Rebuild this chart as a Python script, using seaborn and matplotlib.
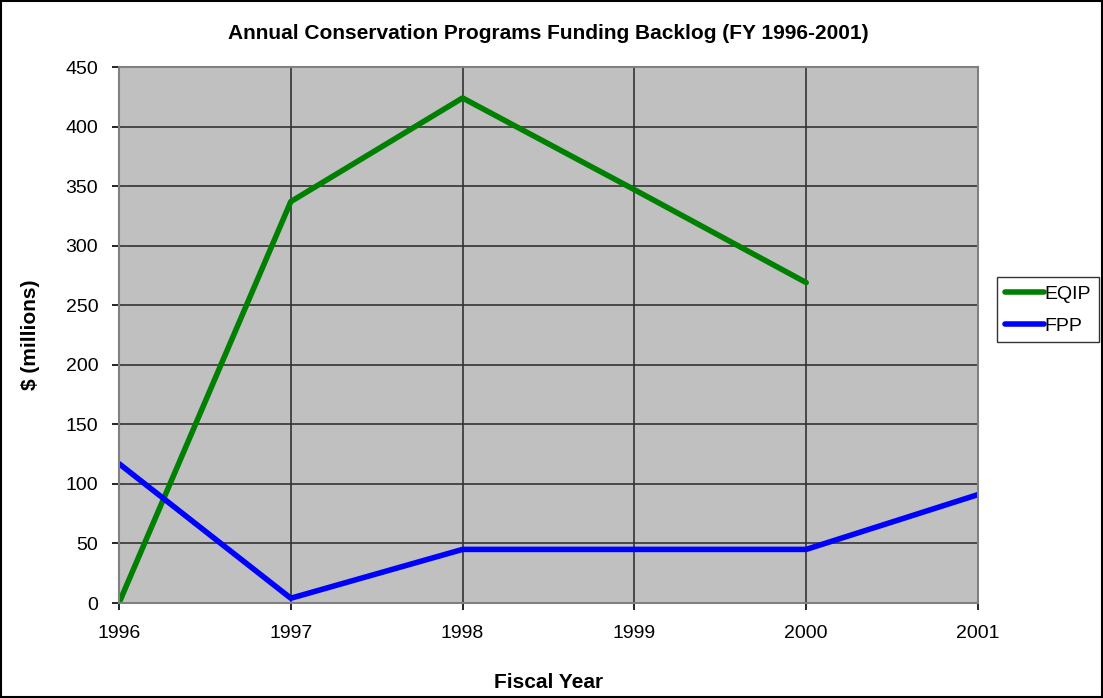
import matplotlib
matplotlib.use("Agg")
import matplotlib.pyplot as plt
import seaborn as sns
import pandas as pd
import numpy as np

years = [1996, 1997, 1998, 1999, 2000, 2001]
eqip = [0, 337, 424, 347, 269, np.nan]
fpp = [117, 4, 45, 45, 45, 91]

df = pd.DataFrame({"Year": years * 2,
                   "Value": eqip + fpp,
                   "Program": ["EQIP"] * 6 + ["FPP"] * 6})

sns.set_theme(style="white")
plt.rcParams['font.family'] = ['Liberation Sans', 'DejaVu Sans']
plt.rcParams['text.color'] = 'black'
plt.rcParams['axes.labelcolor'] = 'black'

fig = plt.figure(figsize=(11.03, 6.98), dpi=100)
ax = fig.add_axes([119/1103, 1-603/698, (978-119)/1103, (603-67)/698])
ax.set_facecolor("#c0c0c0")

sns.lineplot(data=df, x="Year", y="Value", hue="Program",
             palette={"EQIP": "#008000", "FPP": "#0000ff"},
             linewidth=4, ax=ax, legend=True)

ax.set_xlim(1996, 2001)
ax.set_ylim(0, 450)
ax.set_xticks(years)
ax.set_xticklabels([str(y) for y in years])
ax.set_yticks(range(0, 451, 50))
ax.grid(True, color="#333333", linewidth=1.2)
ax.set_axisbelow(True)
for s in ax.spines.values():
    s.set_color("#808080")
    s.set_linewidth(1.5)
ax.tick_params(axis="both", labelsize=14, colors="black", length=5,
               direction="out", bottom=True, left=True, width=1.2)
ax.tick_params(axis="x", pad=11)
ax.tick_params(axis="y", pad=10)
ax.set_xlabel("Fiscal Year", fontsize=15, fontweight="bold", labelpad=22, color="black")
ax.set_ylabel("$ (millions)", fontsize=15, fontweight="bold", labelpad=18, color="black")
ax.set_title("Annual Conservation Programs Funding Backlog (FY 1996-2001)",
             fontsize=15, fontweight="bold", pad=20, color="black")

leg = ax.legend(loc="center left", bbox_to_anchor=((997-119)/859, 0.547),
                frameon=True, fontsize=14, handlelength=2.0, handletextpad=0.05,
                borderpad=0.4, labelspacing=0.75, fancybox=False, borderaxespad=0)
leg.get_frame().set_edgecolor("black")
leg.get_frame().set_linewidth(1)
for t in leg.get_texts():
    t.set_color("black")

fig.patches.append(plt.Rectangle((0.001, 0.001), 0.998, 0.998, transform=fig.transFigure,
                                 fill=False, edgecolor="black", linewidth=1.5))

fig.savefig("out.png", dpi=100, facecolor="white")
